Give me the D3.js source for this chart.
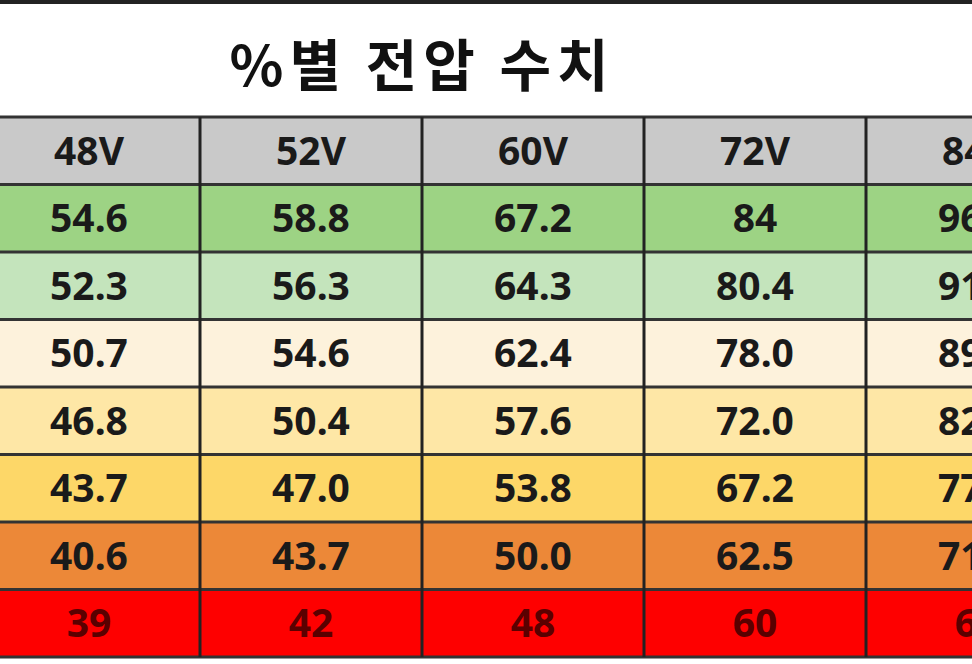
<!DOCTYPE html><html><head><meta charset="utf-8"><script src="https://d3js.org/d3.v7.min.js"></script>
<style>body{margin:0;background:#fff}</style></head><body><svg id="c" width="972" height="664"></svg>
<script>
const title = "%별 전압 수치";
const columns = ["48V","52V","60V","72V","84V"];
const v48 = ["54.6","52.3","50.7","46.8","43.7","40.6","39"];
const v52 = ["58.8","56.3","54.6","50.4","47.0","43.7","42"];
const v60 = ["67.2","64.3","62.4","57.6","53.8","50.0","48"];
const v72 = ["84","80.4","78.0","72.0","67.2","62.5","60"];
const v84 = ["96.6","91.8","89.0","82.4","77.0","71.4","69"];
const rowColors = ["#9dd384","#c4e4bc","#fdf2dc","#fee7a6","#fdd768","#ec8838","#fe0000"];
const series = [v48,v52,v60,v72,v84];
const svg = d3.select("#c");
const x = d3.scaleBand().domain(columns).range([-22,-22+222*5]);
const rows = ["h",0,1,2,3,4,5,6];
const y = d3.scaleBand().domain(rows).range([117,657]);
svg.append("rect").attr("x",0).attr("y",0).attr("width",972).attr("height",4).attr("fill","#222");
svg.append("text").text(title).attr("x",422).attr("y",86).attr("text-anchor","middle").attr("letter-spacing",6)
 .attr("font-family","Noto Sans CJK KR").attr("font-weight","bold").attr("font-size",56).attr("fill","#111");
rows.forEach((r,ri)=>{
  svg.append("rect").attr("x",0).attr("y",y(r)).attr("width",972).attr("height",y.bandwidth())
    .attr("fill", r==="h" ? "#c9c9c9" : rowColors[r]);
  columns.forEach((c,ci)=>{
    svg.append("text").text(r==="h"?c:series[ci][r]).attr("x",x(c)+x.bandwidth()/2).attr("y",y(r)+y.bandwidth()/2+14)
      .attr("text-anchor","middle").attr("font-family","Noto Sans").attr("font-weight","bold").attr("font-size",39)
      .attr("fill", r===6 ? "#5a0000" : "#1a1a1a");
  });
});
rows.concat(["end"]).forEach((r,i)=>{
  const yy = r==="end"? y.range()[1] : y(r);
  svg.append("line").attr("x1",0).attr("x2",972).attr("y1",yy).attr("y2",yy).attr("stroke","#333").attr("stroke-width",3);
});
columns.slice(1).forEach(c=>{
  svg.append("line").attr("x1",x(c)).attr("x2",x(c)).attr("y1",117).attr("y2",657).attr("stroke","#222").attr("stroke-width",3);
});
</script></body></html>
